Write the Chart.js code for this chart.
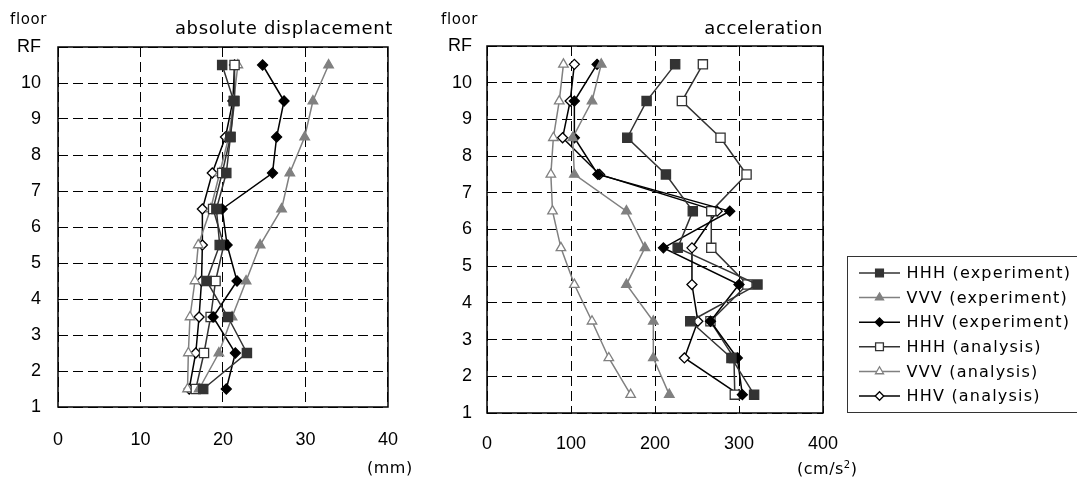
<!DOCTYPE html>
<html>
<head>
<meta charset="utf-8">
<script src="https://cdn.jsdelivr.net/npm/chart.js@4"></script>
<style>
body { margin: 0; background: #fff; }
#wrap { position: relative; width: 1077px; height: 480px; overflow: hidden; font-family: 'DejaVu Sans', sans-serif; color: #000; }
canvas { position: absolute; top: 0; }
.lbl { position: absolute; white-space: nowrap; line-height: 1; }
</style>
</head>
<body>
<div id="wrap">
  <canvas id="dispChart" width="420" height="480" style="left:0"></canvas>
  <canvas id="accChart" width="657" height="480" style="left:420px"></canvas>

  <div class="lbl" style="left:10px;top:12px;font-size:15px;letter-spacing:0.6px">floor</div>
  <div class="lbl" style="right:684px;top:19px;font-size:18px;letter-spacing:0.65px">absolute displacement</div>
  <div class="lbl" style="left:367px;top:460px;font-size:16px;letter-spacing:0.5px">(mm)</div>

  <div class="lbl" style="left:441px;top:12px;font-size:15px;letter-spacing:0.6px">floor</div>
  <div class="lbl" style="right:254px;top:19px;font-size:18px;letter-spacing:0.65px">acceleration</div>
  <div class="lbl" style="left:797px;top:460px;font-size:16px;letter-spacing:0.5px">(cm/s<sup style="font-size:10px">2</sup>)</div>
</div>

<script>
// floors (points sit between floor lines), bottom -> top
const floors = [1.5, 2.5, 3.5, 4.5, 5.5, 6.5, 7.5, 8.5, 9.5, 10.5];
const floorTicks = [1, 2, 3, 4, 5, 6, 7, 8, 9, 10, 11];
const topLabel = 'RF';

const seriesNames = ['HHH (experiment)', 'VVV (experiment)', 'HHV (experiment)',
                     'HHH (analysis)', 'VVV (analysis)', 'HHV (analysis)'];

// absolute displacement (mm)
const dispHHHexp = [17.6, 22.9, 20.6, 18.0, 19.6, 19.2, 20.4, 20.9, 21.3, 19.9];
const dispVVVexp = [17.1, 19.5, 21.1, 22.8, 24.5, 27.1, 28.1, 29.9, 30.9, 32.8];
const dispHHVexp = [20.4, 21.5, 18.8, 21.7, 20.5, 19.9, 26.0, 26.5, 27.4, 24.8];
const dispHHHana = [16.7, 17.7, 18.5, 19.1, 20.1, 18.8, 19.9, 20.9, 21.4, 21.4];
const dispVVVana = [15.7, 15.8, 16.0, 16.6, 17.0, 18.5, 19.6, 20.7, 21.3, 21.8];
const dispHHVana = [15.9, 16.7, 17.1, 17.4, 17.5, 17.5, 18.7, 20.3, 21.2, 21.4];

// acceleration (cm/s2)
const accHHHexp = [318, 291, 242, 322, 227, 245, 213, 167, 190, 224];
const accVVVexp = [217, 198, 198, 166, 188, 166, 104, 102, 125, 136];
const accHHVexp = [304, 298, 266, 300, 210, 289, 132, 104, 104, 131];
const accHHHana = [295, 294, 266, 310, 267, 267, 309, 278, 232, 257];
const accVVVana = [171, 145, 125, 104, 88, 78, 76, 79, 86, 91];
const accHHVana = [300, 235, 251, 244, 244, 274, 134, 90, 99, 104];

// marker / line look of each series
const looks = [
  { pointStyle: 'rect',     radius: 6.5, fill: '#333333', color: '#333333' },
  { pointStyle: 'triangle', radius: 5.5, fill: '#808080', color: '#808080' },
  { pointStyle: 'rectRot',  radius: 5,   fill: '#000000', color: '#000000' },
  { pointStyle: 'rect',     radius: 6.5, fill: '#ffffff', color: '#333333' },
  { pointStyle: 'triangle', radius: 5.5, fill: '#ffffff', color: '#808080' },
  { pointStyle: 'rectRot',  radius: 5,   fill: '#ffffff', color: '#000000' }
];

function makeDatasets(seriesList) {
  return seriesList.map((vals, i) => ({
    label: seriesNames[i],
    data: vals.map((v, k) => ({ x: v, y: floors[k] })),
    showLine: true,
    tension: 0,
    borderColor: looks[i].color,
    borderWidth: 1.5,
    pointStyle: looks[i].pointStyle,
    pointRadius: looks[i].radius,
    pointHoverRadius: looks[i].radius,
    pointBackgroundColor: looks[i].fill,
    pointBorderColor: looks[i].color,
    pointBorderWidth: 1.3
  }));
}

// solid frame round the plot area
const framePlugin = {
  id: 'frame',
  beforeDatasetsDraw(chart) {
    const a = chart.chartArea, ctx = chart.ctx;
    ctx.save();
    ctx.strokeStyle = '#000';
    ctx.lineWidth = 1.5;
    ctx.strokeRect(a.left, a.top, a.right - a.left, a.bottom - a.top);
    ctx.restore();
  }
};

// boxed legend to the right of the acceleration plot
const boxLegend = {
  id: 'boxLegend',
  afterDraw(chart) {
    const ctx = chart.ctx;
    ctx.save();
    ctx.strokeStyle = '#333';
    ctx.lineWidth = 1;
    ctx.strokeRect(427.5, 256.5, 300, 156);
    chart.data.datasets.forEach((ds, i) => {
      const y = 273 + i * 24.6;
      ctx.strokeStyle = ds.borderColor;
      ctx.lineWidth = ds.borderWidth;
      ctx.beginPath();
      ctx.moveTo(439, y);
      ctx.lineTo(480, y);
      ctx.stroke();
      ctx.fillStyle = ds.pointBackgroundColor;
      ctx.strokeStyle = ds.pointBorderColor;
      ctx.lineWidth = ds.pointBorderWidth;
      Chart.helpers.drawPoint(ctx, {
        pointStyle: ds.pointStyle, rotation: 0,
        radius: ds.pointRadius * 0.85, borderWidth: ds.pointBorderWidth
      }, 459.5, y);
      ctx.fillStyle = '#000';
      ctx.font = '16px "DejaVu Sans"';
      ctx.letterSpacing = '1.2px';
      ctx.textBaseline = 'middle';
      ctx.textAlign = 'left';
      ctx.fillText(ds.label, 486.5, y + 1);
    });
    ctx.restore();
  }
};

function makeChart(id, datasets, xMax, xStep, yWidth, xHeight, xPad, yPad, pad, plugins) {
  return new Chart(document.getElementById(id), {
    type: 'scatter',
    data: { datasets },
    options: {
      responsive: false,
      animation: false,
      devicePixelRatio: 1,
      layout: { padding: pad },
      plugins: { legend: { display: false }, tooltip: { enabled: false } },
      scales: {
        x: {
          type: 'linear', min: 0, max: xMax,
          afterFit: s => { s.height = xHeight; },
          ticks: { stepSize: xStep, padding: xPad, color: '#000',
                   font: { family: 'Liberation Sans', size: 18 } },
          grid: { color: '#000', lineWidth: 1, drawTicks: false },
          border: { display: false, dash: [10, 5] }
        },
        y: {
          type: 'linear', min: 1, max: 11,
          afterFit: s => { s.width = yWidth; },
          afterBuildTicks: s => { s.ticks = floorTicks.map(v => ({ value: v })); },
          ticks: { padding: yPad, color: '#000', autoSkip: false,
                   font: { family: 'Liberation Sans', size: 18 },
                   callback: v => v === 11 ? topLabel : v },
          grid: { color: '#000', lineWidth: 1, drawTicks: false },
          border: { display: false, dash: [10, 5] }
        }
      }
    },
    plugins: plugins
  });
}

makeChart('dispChart',
  makeDatasets([dispHHHexp, dispVVVexp, dispHHVexp, dispHHHana, dispVVVana, dispHHVana]),
  40, 10, 58, 73, 22, 17, { left: 0, right: 28, top: 47, bottom: 0 }, [framePlugin]);

makeChart('accChart',
  makeDatasets([accHHHexp, accVVVexp, accHHVexp, accHHHana, accVVVana, accHHVana]),
  400, 100, 67, 67, 20, 15, { left: 0, right: 254, top: 46, bottom: 0 }, [framePlugin, boxLegend]);
</script>
</body>
</html>
